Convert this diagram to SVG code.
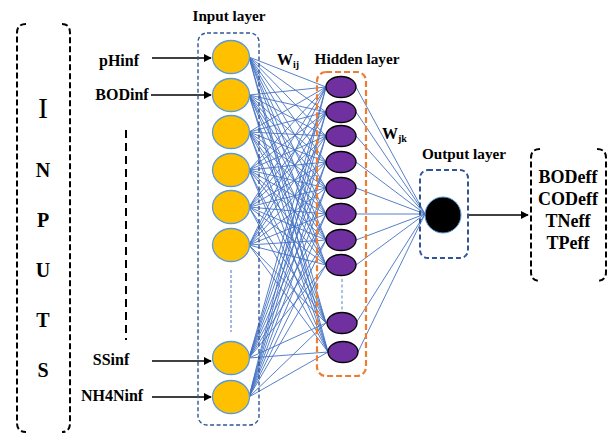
<svg xmlns="http://www.w3.org/2000/svg" width="612" height="436" viewBox="0 0 612 436">
<defs>
<style>
.t{font-family:"Liberation Serif","Times New Roman",serif;font-weight:bold;fill:#000}
.lbl{font-size:15.2px}
.inl{font-size:16px}
.big{font-size:20px}
.eff{font-size:18px}
.conn{stroke:#4472C4;stroke-width:0.9;fill:none}
.in{fill:#FFC000;stroke:#5B9BD5;stroke-width:1.3}
.hid{fill:#7030A0;stroke:#000;stroke-width:1.3}
.arr{stroke:#000;stroke-width:1.4;fill:none}
</style>
<marker id="ah" viewBox="0 0 10 10" refX="9" refY="5" markerWidth="8" markerHeight="8" markerUnits="userSpaceOnUse" orient="auto">
<path d="M0,0 L10,5 L0,10 z" fill="#000"/>
</marker>
</defs>
<rect width="612" height="436" fill="#fff"/>

<g id="inputs-bracket">
<path d="M26,24 Q17,24 17,33 L17,423 Q17,432 26,432 M62,24 Q70,24 70,33 L70,423 Q70,432 62,432" fill="none" stroke="#000" stroke-width="2" stroke-dasharray="6,3"/>
<text x="43" y="118" text-anchor="middle" font-family="Liberation Serif, serif" font-size="30" fill="#000">I</text>
<text class="t big" x="43" y="177" text-anchor="middle">N</text>
<text class="t big" x="43" y="227" text-anchor="middle">P</text>
<text class="t big" x="43" y="277" text-anchor="middle">U</text>
<text class="t big" x="43" y="327" text-anchor="middle">T</text>
<text class="t big" x="43" y="377" text-anchor="middle">S</text>
</g>

<g id="input-labels">
<text class="t inl" x="119" y="66" text-anchor="middle">pHinf</text>
<text class="t inl" x="122" y="100" text-anchor="middle">BODinf</text>
<text class="t inl" x="111" y="365" text-anchor="middle">SSinf</text>
<text class="t inl" x="112" y="401" text-anchor="middle">NH4Ninf</text>
<line x1="126" y1="130" x2="126" y2="340" stroke="#000" stroke-width="2" stroke-dasharray="8,5"/>
</g>

<g id="connectors">
<line class="arr" x1="152" y1="58" x2="211" y2="58" marker-end="url(#ah)"/>
<line class="arr" x1="151" y1="95" x2="211" y2="95" marker-end="url(#ah)"/>
<line class="arr" x1="152" y1="361" x2="211" y2="361" marker-end="url(#ah)"/>
<line class="arr" x1="152" y1="397" x2="211" y2="397" marker-end="url(#ah)"/>
<line class="arr" x1="468" y1="215" x2="528" y2="215" marker-end="url(#ah)"/>
<path class="conn" d="
M249,57 L326,87 M249,57 L326,112 M249,57 L326,136 M249,57 L326,162 M249,57 L326,188 M249,57 L326,214 M249,57 L326,240 M249,57 L326,265 M249,57 L326,323 M249,57 L328,352
M249,95 L326,87 M249,95 L326,112 M249,95 L326,136 M249,95 L326,162 M249,95 L326,188 M249,95 L326,214 M249,95 L326,240 M249,95 L326,265 M249,95 L326,323 M249,95 L328,352
M249,132 L326,87 M249,132 L326,112 M249,132 L326,136 M249,132 L326,162 M249,132 L326,188 M249,132 L326,214 M249,132 L326,240 M249,132 L326,265 M249,132 L326,323 M249,132 L328,352
M249,170 L326,87 M249,170 L326,112 M249,170 L326,136 M249,170 L326,162 M249,170 L326,188 M249,170 L326,214 M249,170 L326,240 M249,170 L326,265 M249,170 L326,323 M249,170 L328,352
M249,207 L326,87 M249,207 L326,112 M249,207 L326,136 M249,207 L326,162 M249,207 L326,188 M249,207 L326,214 M249,207 L326,240 M249,207 L326,265 M249,207 L326,323 M249,207 L328,352
M249,245 L326,87 M249,245 L326,112 M249,245 L326,136 M249,245 L326,162 M249,245 L326,188 M249,245 L326,214 M249,245 L326,240 M249,245 L326,265 M249,245 L326,323 M249,245 L328,352
M249,358 L326,87 M249,358 L326,112 M249,358 L326,136 M249,358 L326,162 M249,358 L326,188 M249,358 L326,214 M249,358 L326,240 M249,358 L326,265 M249,358 L326,323 M249,358 L328,352
M249,397 L326,87 M249,397 L326,112 M249,397 L326,136 M249,397 L326,162 M249,397 L326,188 M249,397 L326,214 M249,397 L326,240 M249,397 L326,265 M249,397 L326,323 M249,397 L328,352
M356,87 L425,214 M356,112 L425,214 M356,136 L425,214 M356,162 L425,214 M356,188 L425,214 M356,214 L425,214 M356,240 L425,214 M356,265 L425,214 M356,323 L425,214 M358,352 L425,214"/>
</g>

<g id="input-layer">
<rect x="198" y="33" width="61" height="392" rx="9" fill="none" stroke="#2F5597" stroke-width="1.4" stroke-dasharray="4,2.5"/>
<text class="t lbl" x="229" y="21" text-anchor="middle">Input layer</text>
<ellipse class="in" cx="231" cy="57" rx="18.5" ry="16.5"/>
<ellipse class="in" cx="231" cy="95" rx="18.5" ry="16.5"/>
<ellipse class="in" cx="231" cy="132" rx="18.5" ry="16.5"/>
<ellipse class="in" cx="231" cy="170" rx="18.5" ry="16.5"/>
<ellipse class="in" cx="231" cy="207" rx="18.5" ry="16.5"/>
<ellipse class="in" cx="231" cy="245" rx="18.5" ry="16.5"/>
<ellipse class="in" cx="231" cy="358" rx="18.5" ry="16.5"/>
<ellipse class="in" cx="231" cy="397" rx="18.5" ry="16.5"/>
<line x1="231" y1="270" x2="231" y2="332" stroke="#4472C4" stroke-width="1" stroke-dasharray="3,2"/>
</g>

<g id="hidden-layer">
<rect x="317" y="72" width="49" height="304" rx="9" fill="none" stroke="#ED7D31" stroke-width="2.2" stroke-dasharray="6,3"/>
<text class="t lbl" x="357" y="64" text-anchor="middle">Hidden layer</text>
<ellipse class="hid" cx="341" cy="87" rx="15" ry="10.5"/>
<ellipse class="hid" cx="341" cy="112" rx="15" ry="10.5"/>
<ellipse class="hid" cx="341" cy="136" rx="15" ry="10.5"/>
<ellipse class="hid" cx="341" cy="162" rx="15" ry="10.5"/>
<ellipse class="hid" cx="341" cy="188" rx="15" ry="10.5"/>
<ellipse class="hid" cx="341" cy="214" rx="15" ry="10.5"/>
<ellipse class="hid" cx="341" cy="240" rx="15" ry="10.5"/>
<ellipse class="hid" cx="341" cy="265" rx="15" ry="10.5"/>
<ellipse class="hid" cx="342" cy="323" rx="15" ry="10.5"/>
<ellipse class="hid" cx="343" cy="352" rx="15" ry="10.5"/>
<line x1="342" y1="279" x2="342" y2="311" stroke="#8FAADC" stroke-width="1.5" stroke-dasharray="3,2.5"/>
</g>

<g id="weights">
<text class="t" x="277" y="65" font-size="16">W<tspan font-size="10" dy="3">ij</tspan></text>
<text class="t" x="382" y="139" font-size="16">W<tspan font-size="10" dy="3">jk</tspan></text>
</g>

<g id="output-layer">
<rect x="420" y="170" width="48" height="88" rx="8" fill="none" stroke="#2F5597" stroke-width="2" stroke-dasharray="5,3"/>
<text class="t lbl" x="464" y="159" text-anchor="middle">Output layer</text>
<circle cx="443" cy="215" r="18" fill="#000" stroke="#5B9BD5" stroke-width="1"/>
</g>

<g id="outputs-bracket">
<path d="M540,149 Q531,149 531,158 L531,272 Q531,281 540,281 M597,149 Q606,149 606,158 L606,272 Q606,281 597,281" fill="none" stroke="#000" stroke-width="2" stroke-dasharray="6,3"/>
<text class="t eff" x="568" y="183" text-anchor="middle">BODeff</text>
<text class="t eff" x="568" y="205" text-anchor="middle">CODeff</text>
<text class="t eff" x="568" y="227" text-anchor="middle">TNeff</text>
<text class="t eff" x="568" y="249" text-anchor="middle">TPeff</text>
</g>
</svg>
